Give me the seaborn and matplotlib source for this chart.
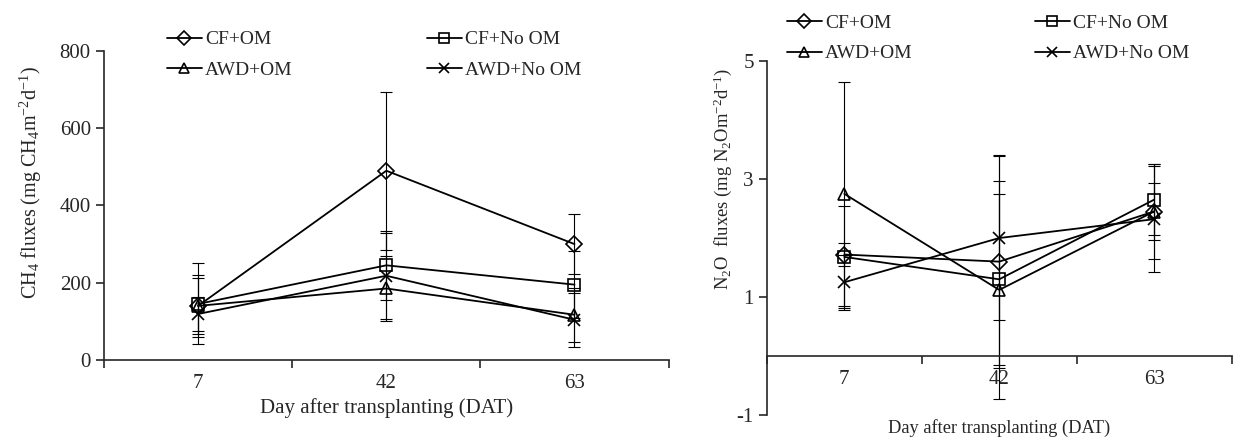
import numpy as np
import pandas as pd
import matplotlib
matplotlib.use("Agg")
import matplotlib.pyplot as plt
from matplotlib.lines import Line2D
from matplotlib.ticker import FixedLocator
import seaborn as sns

days = ["7", "42", "63"]
treatments = ["CF+OM", "CF+No OM", "AWD+OM", "AWD+No OM"]
markers = {"CF+OM": "D", "CF+No OM": "s", "AWD+OM": "^", "AWD+No OM": "x"}

# CH4 fluxes (mg CH4 m-2 d-1)
ch4_cf_om = [140, 490, 300]
ch4_cf_noom = [145, 245, 195]
ch4_awd_om = [140, 185, 117]
ch4_awd_noom = [119, 218, 104]
ch4_err_cf_om = [80, 205, 78]
ch4_err_cf_noom = [105, 90, 87]
ch4_err_awd_om = [72, 85, 70]
ch4_err_awd_noom = [45, 112, 70]

# N2O fluxes (mg N2O m-2 d-1)
n2o_cf_om = [1.72, 1.60, 2.45]
n2o_cf_noom = [1.68, 1.30, 2.65]
n2o_awd_om = [2.75, 1.12, 2.45]
n2o_awd_noom = [1.25, 2.00, 2.32]
n2o_err_cf_om = [0.20, 1.80, 0.80]
n2o_err_cf_noom = [0.87, 1.45, 0.60]
n2o_err_awd_om = [1.90, 1.85, 0.48]
n2o_err_awd_noom = [0.47, 1.39, 0.90]

sns.set_style("ticks")
plt.rcParams["font.family"] = ["Liberation Serif", "DejaVu Serif"]
plt.rcParams["mathtext.fontset"] = "custom"
plt.rcParams["mathtext.rm"] = "Liberation Serif"
plt.rcParams["mathtext.it"] = "Liberation Serif:italic"
plt.rcParams["font.size"] = 15
plt.rcParams["axes.unicode_minus"] = False


def make_df(vals, errs):
    rows = []
    for t, v, e in zip(treatments, vals, errs):
        for i, d in enumerate(days):
            rows.append({"pos": i, "day": d, "treatment": t, "flux": v[i], "err": e[i]})
    return pd.DataFrame(rows)


def draw(ax, df):
    for t in treatments:
        sub = df[df.treatment == t]
        ax.errorbar(sub["pos"], sub["flux"], yerr=sub["err"], fmt="none",
                    ecolor="black", elinewidth=0.8, capsize=4.5, capthick=0.8, zorder=2)
        sns.lineplot(data=sub, x="pos", y="flux", marker=markers[t], color="black",
                     errorbar=None, ax=ax, lw=1.3, ms=8, mfc="none", mec="black",
                     mew=1.2, zorder=3)
    ax.set_xlim(-0.5, 2.5)
    ax.xaxis.set_major_locator(FixedLocator(range(len(days))))
    ax.set_xticklabels(days)
    ax.xaxis.set_minor_locator(FixedLocator([-0.5, 0.5, 1.5, 2.5]))
    ax.tick_params(axis="x", which="major", length=0, pad=10, labelsize=15)
    ax.tick_params(axis="x", which="minor", length=6, width=1.2, direction="out")
    ax.tick_params(axis="y", length=6, width=1.2, direction="out", labelsize=15)
    for s in ["top", "right"]:
        ax.spines[s].set_visible(False)
    for s in ["left", "bottom"]:
        ax.spines[s].set_linewidth(1.2)


def add_legend(fig, anchor, colspace):
    order = ["CF+OM", "AWD+OM", "CF+No OM", "AWD+No OM"]
    handles = [Line2D([], [], color="black", lw=1.3, marker=markers[t], ms=7.5,
                      mfc="none", mec="black", mew=1.2) for t in order]
    fig.legend(handles, order, ncol=2, loc="upper left", bbox_to_anchor=anchor,
               bbox_transform=fig.transFigure, frameon=False, borderpad=0,
               borderaxespad=0, handlelength=1.8, handletextpad=0.15,
               columnspacing=colspace, labelspacing=0.65, fontsize=14)


fig = plt.figure(figsize=(12.49, 4.40), dpi=100)

ax1 = fig.add_axes([0.0833, 0.182, 0.452, 0.702])
draw(ax1, make_df([ch4_cf_om, ch4_cf_noom, ch4_awd_om, ch4_awd_noom],
                  [ch4_err_cf_om, ch4_err_cf_noom, ch4_err_awd_om, ch4_err_awd_noom]))
ax1.set_ylim(0, 800)
ax1.set_yticks([0, 200, 400, 600, 800])
ax1.set_xlabel("Day after transplanting (DAT)", fontsize=15, labelpad=4)
ax1.set_ylabel("CH$_4$ fluxes (mg CH$_4$m$^{-2}$d$^{-1}$)", fontsize=14.5)
ax1.yaxis.set_label_coords(-0.107, 0.573)

ax2 = fig.add_axes([0.614, 0.057, 0.372, 0.804])
draw(ax2, make_df([n2o_cf_om, n2o_cf_noom, n2o_awd_om, n2o_awd_noom],
                  [n2o_err_cf_om, n2o_err_cf_noom, n2o_err_awd_om, n2o_err_awd_noom]))
ax2.set_ylim(-1, 5)
ax2.set_yticks([-1, 1, 3, 5])
ax2.spines["bottom"].set_position(("data", 0))
ax2.set_xlabel("Day after transplanting (DAT)", fontsize=13.2)
ax2.xaxis.set_label_coords(0.5, -0.012)
ax2.set_ylabel("N$_2$O  fluxes (mg N$_2$Om$^{-2}$d$^{-1}$)", fontsize=13.4)
ax2.yaxis.set_label_coords(-0.071, 0.667)

add_legend(fig, (0.1337, 0.930), 6.9)
add_legend(fig, (0.630, 0.967), 6.3)

fig.savefig("out.png", dpi=100)
